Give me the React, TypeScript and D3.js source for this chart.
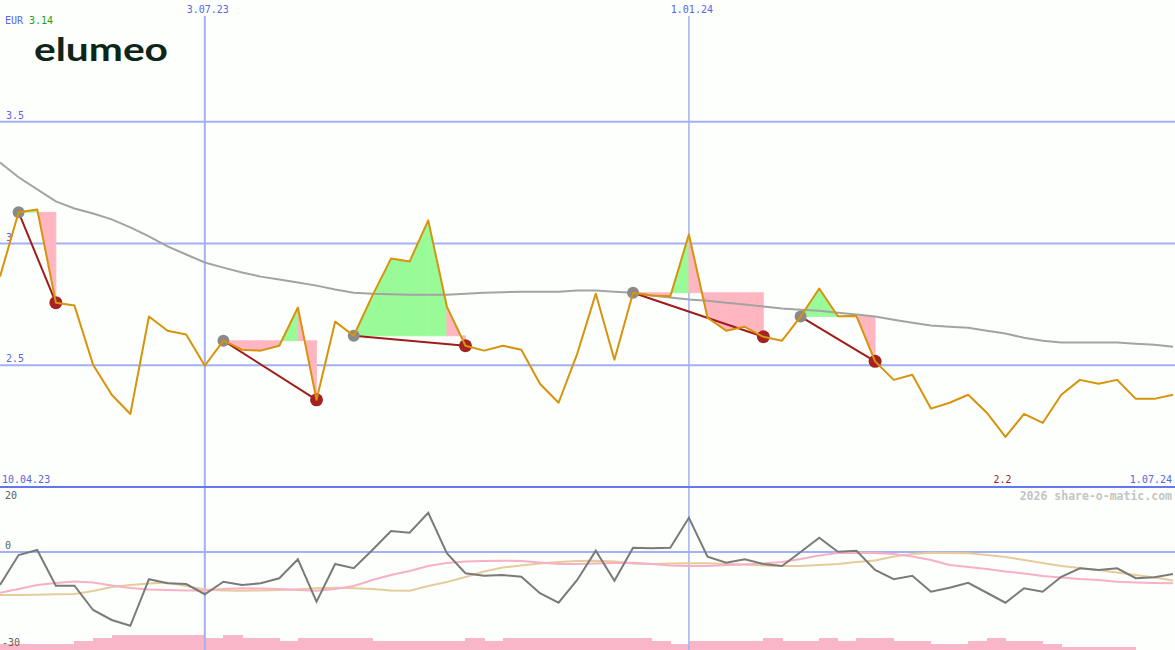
import React, { useEffect } from 'react';
import * as d3 from 'd3';

// ---------- DATA ----------
const startDate = new Date(2023, 3, 17); // first weekly point (Monday)
const weekCount = 64;
const dates: Date[] = d3.range(weekCount).map((i) => d3.timeDay.offset(startDate, i * 7));

// Weekly closing price (EUR)
const price = [
  2.864, 3.128, 3.14, 2.757, 2.745, 2.502, 2.379, 2.3, 2.7, 2.642,
  2.626, 2.498, 2.601, 2.564, 2.56, 2.58, 2.737, 2.358, 2.679, 2.621,
  2.786, 2.938, 2.926, 3.095, 2.741, 2.58, 2.56, 2.58, 2.564, 2.424,
  2.346, 2.547, 2.794, 2.523, 2.798, 2.786, 2.783, 3.037, 2.695, 2.642,
  2.658, 2.617, 2.601, 2.7, 2.815, 2.701, 2.702, 2.516, 2.44, 2.461,
  2.322, 2.346, 2.379, 2.305, 2.206, 2.3, 2.263, 2.379, 2.44, 2.424,
  2.44, 2.362, 2.362, 2.379,
];

// Long moving average (grey)
const movingAvg = [
  3.333, 3.272, 3.222, 3.173, 3.144, 3.123, 3.099, 3.066, 3.029, 2.988,
  2.955, 2.922, 2.901, 2.881, 2.864, 2.852, 2.84, 2.827, 2.811, 2.798,
  2.794, 2.792, 2.79, 2.79, 2.79, 2.794, 2.798, 2.8, 2.802, 2.802,
  2.802, 2.807, 2.807, 2.802, 2.798, 2.786, 2.778, 2.77, 2.765, 2.757,
  2.749, 2.741, 2.733, 2.728, 2.724, 2.716, 2.708, 2.7, 2.687, 2.675,
  2.663, 2.658, 2.654, 2.642, 2.63, 2.613, 2.601, 2.593, 2.593, 2.593,
  2.593, 2.588, 2.584, 2.576,
];

// Pattern annotations: [start index, end index]
const patterns: [number, number][] = [
  [1, 3],
  [12, 17],
  [19, 25],
  [34, 41],
  [43, 47],
];

// Oscillator panel
const oscMomentum = [
  -13.2, -1.2, 0.8, -13.5, -13.5, -23.2, -27.2, -29.5, -10.9, -12.5,
  -12.8, -16.9, -11.9, -13.2, -12.5, -10.5, -2.9, -19.9, -4.8, -6.5,
  0.8, 8.4, 7.7, 15.7, -0.5, -8.5, -9.5, -9.2, -9.9, -16.5,
  -20.3, -11.2, 0.5, -11.5, 1.7, 1.5, 1.7, 13.7, -1.9, -4.3,
  -2.9, -4.8, -5.6, 0, 5.7, 0.1, 0.5, -7.2, -10.9, -9.5,
  -15.9, -14.3, -12.3, -16.3, -20.3, -14.5, -15.9, -9.9, -6.5, -7.2,
  -6.5, -10.5, -10.1, -8.8,
];
const oscFast = [
  -16.3, -14.8, -13.2, -12.4, -11.8, -12.2, -13.4, -14.4, -15.0, -15.2,
  -15.4, -15.4, -14.8, -14.5, -14.6, -14.8, -15.2, -15.5, -14.8, -13.6,
  -11.2, -9.2, -7.6, -5.6, -4.4, -3.8, -3.6, -3.5, -3.6, -4.2,
  -4.8, -4.8, -4.6, -4.4, -4.3, -4.8, -5.4, -5.6, -5.6, -5.2,
  -5.0, -4.6, -4.0, -2.8, -1.4, -0.4, -0.3, -0.4, -0.8, -1.8,
  -3.2, -5.2, -6.0, -6.8, -7.8, -8.6, -9.6, -10.2, -10.8, -11.2,
  -11.9, -12.2, -12.4, -12.5,
];
const oscSlow = [
  -17.2, -17.2, -17.1, -16.9, -16.8, -15.6, -14.0, -13.2, -12.6, -12.2,
  -13.6, -15.0, -15.4, -15.5, -15.4, -15.2, -14.9, -14.5, -14.3, -14.5,
  -14.8, -15.4, -15.5, -13.6, -12.0, -10.0, -7.8, -6.2, -5.4, -4.6,
  -4.0, -3.6, -3.5, -3.8, -4.6, -4.8, -4.6, -4.5, -4.5, -4.8,
  -5.0, -5.4, -5.6, -5.6, -5.2, -4.8, -4.0, -3.4, -1.8, -0.8,
  -0.3, -0.4, -0.5, -1.2, -2.0, -3.2, -4.4, -5.6, -6.4, -7.2,
  -8.2, -9.2, -10.2, -11.4,
];
const volumeBars = [
  2, 2, 2, 2, 3, 4, 5, 5, 5, 5,
  5, 4, 5, 4, 4, 3, 4, 4, 4, 4,
  3, 3, 3, 3, 3, 4, 3, 4, 4, 4,
  4, 4, 4, 4, 4, 3, 2, 3, 3, 3,
  3, 4, 3, 3, 4, 3, 4, 4, 3, 3,
  2, 2, 3, 4, 3, 3, 2, 1, 1, 1,
  1, 0, 0, 0,
];

const priceTicks = [3.5, 3, 2.5];
const oscTicks = [20, 0, -30];
const dateTicks = [new Date(2023, 6, 3), new Date(2024, 0, 1)];
const startLabel = '10.04.23';
const endLabel = '1.07.24';
const currency = 'EUR';
const companyName = 'elumeo';
const watermark = '2026 share-o-matic.com';

// ---------- LAYOUT ----------
const W = 1175;
const H = 650;
const mono = "'DejaVu Sans Mono', monospace";

export default function App() {
  useEffect(() => {
    document.body.style.margin = '0';
  }, []);

  const x = d3.scaleTime().domain([dates[0], dates[weekCount - 1]]).range([0, 1173]);
  const y = d3.scaleLinear().domain([2, 4]).range([487, 0]);
  const yo = d3.scaleLinear().domain([-30, 20]).range([627, 502]);
  const yv = d3.scaleLinear().domain([0, 5]).range([650, 635]);
  const step = x(dates[1]) - x(dates[0]);

  const line = (vals: number[], ys: d3.ScaleLinear<number, number>) =>
    d3
      .line<number>()
      .x((_, i) => x(dates[i]))
      .y((d) => ys(d))(vals) || '';

  const maxV = d3.max(price)!;
  const minV = d3.min(price)!;
  const minI = price.indexOf(minV);
  const fmtDate = d3.timeFormat('%-d.%m.%y');

  // pattern fills
  const fills: { d: string; color: string }[] = [];
  patterns.forEach(([s, e]) => {
    const level = price[s];
    for (let k = s; k < e; k++) {
      const pts: [number, number][] = [
        [x(dates[k]), y(level)],
        [x(dates[k]), y(price[k])],
        [x(dates[k + 1]), y(price[k + 1])],
        [x(dates[k + 1]), y(level)],
      ];
      fills.push({
        d: 'M' + pts.map((p) => p.join(',')).join('L') + 'Z',
        color: price[k + 1] > level ? '#98fb98' : '#ffb6c1',
      });
    }
  });

  const gridColor = '#a4b0f4';
  const labelBlue = '#5a64e8';

  return (
    <svg
      width={W}
      height={H}
      style={{ position: 'absolute', left: 0, top: 0, background: '#fcfffc' }}
    >
      <rect x={0} y={0} width={W} height={H} fill="#fcfffc" />

      {/* volume bars */}
      {volumeBars.map((v, i) =>
        v > 0 ? (
          <rect
            key={'vb' + i}
            x={x(dates[i])}
            y={yv(v)}
            width={step + 0.5}
            height={yv(0) - yv(v)}
            fill="#f9b6c9"
            shapeRendering="crispEdges"
          />
        ) : null
      )}

      {/* price grid */}
      {priceTicks.map((t) => (
        <g key={'pt' + t}>
          <line x1={0} x2={W} y1={y(t)} y2={y(t)} stroke={gridColor} strokeWidth={2} />
          <text x={6} y={y(t) - 3} fontFamily={mono} fontSize={10} fill={labelBlue}>
            {t}
          </text>
        </g>
      ))}
      {dateTicks.map((d, i) => (
        <g key={'dt' + i}>
          <line
            x1={x(d)}
            x2={x(d)}
            y1={16}
            y2={H}
            stroke={gridColor}
            strokeWidth={i === 0 ? 2 : 1.5}
          />
          <text
            x={x(d) + 3}
            y={13}
            textAnchor="middle"
            fontFamily={mono}
            fontSize={10}
            fill={labelBlue}
          >
            {fmtDate(d)}
          </text>
        </g>
      ))}

      {/* oscillator zero line */}
      <line x1={0} x2={W} y1={yo(0)} y2={yo(0)} stroke={gridColor} strokeWidth={2} />
      {/* panel divider */}
      <line x1={0} x2={W} y1={487} y2={487} stroke="#6676ec" strokeWidth={2} />

      {/* pattern fills */}
      {fills.map((f, i) => (
        <path key={'f' + i} d={f.d} fill={f.color} stroke={f.color} strokeWidth={0.8} />
      ))}

      {/* moving average */}
      <path d={line(movingAvg, y)} fill="none" stroke="#a3a3a3" strokeWidth={2} />

      {/* pattern connecting lines */}
      {patterns.map(([s, e], i) => (
        <line
          key={'pl' + i}
          x1={x(dates[s])}
          y1={y(price[s])}
          x2={x(dates[e])}
          y2={y(price[e])}
          stroke="#a01c1c"
          strokeWidth={2}
        />
      ))}
      {patterns.map(([s, e], i) => (
        <g key={'pd' + i}>
          <circle cx={x(dates[s])} cy={y(price[s])} r={6} fill="#8a8a8a" />
          <circle cx={x(dates[e])} cy={y(price[e])} r={6.5} fill="#a52222" />
        </g>
      ))}

      {/* price line */}
      <path d={line(price, y)} fill="none" stroke="#d8930c" strokeWidth={2} strokeLinejoin="round" />

      {/* oscillator lines */}
      <path d={line(oscSlow, yo)} fill="none" stroke="#e6cc9c" strokeWidth={2} />
      <path d={line(oscFast, yo)} fill="none" stroke="#f7b0c6" strokeWidth={2} />
      <path d={line(oscMomentum, yo)} fill="none" stroke="#7a7a7a" strokeWidth={2} />

      {/* oscillator labels (lowest one sits at the panel bottom) */}
      {oscTicks.map((t) => (
        <text
          key={'ot' + t}
          x={t < 0 ? 2 : 5}
          y={t === d3.min(oscTicks) ? H - 4 : yo(t) - 3}
          fontFamily={mono}
          fontSize={10}
          fill="#5c5c5c"
        >
          {t}
        </text>
      ))}

      {/* header */}
      <text x={5} y={24} fontFamily={mono} fontSize={10}>
        <tspan fill={labelBlue}>{currency}</tspan>
        <tspan fill="#1e9e1e" dx={6}>
          {maxV.toFixed(2)}
        </tspan>
      </text>
      <text
        x={34}
        y={61}
        fontFamily="Lato, 'Open Sans', sans-serif"
        fontWeight={700}
        fontSize={33}
        fill="#0e2618"
        textLength={134}
        lengthAdjust="spacingAndGlyphs"
      >
        {companyName}
      </text>

      {/* bottom labels of main panel */}
      <text x={2} y={483} fontFamily={mono} fontSize={10} fill={labelBlue}>
        {startLabel}
      </text>
      <text x={1172} y={483} textAnchor="end" fontFamily={mono} fontSize={10} fill={labelBlue}>
        {endLabel}
      </text>
      <text
        x={x(dates[minI]) - 3}
        y={483}
        textAnchor="middle"
        fontFamily={mono}
        fontSize={10}
        fill="#a01c1c"
      >
        {minV.toFixed(1)}
      </text>
      <text
        x={1172}
        y={500}
        textAnchor="end"
        fontFamily={mono}
        fontSize={11.5}
        fontWeight={700}
        fill="#c4c4c4"
      >
        {watermark}
      </text>
    </svg>
  );
}
